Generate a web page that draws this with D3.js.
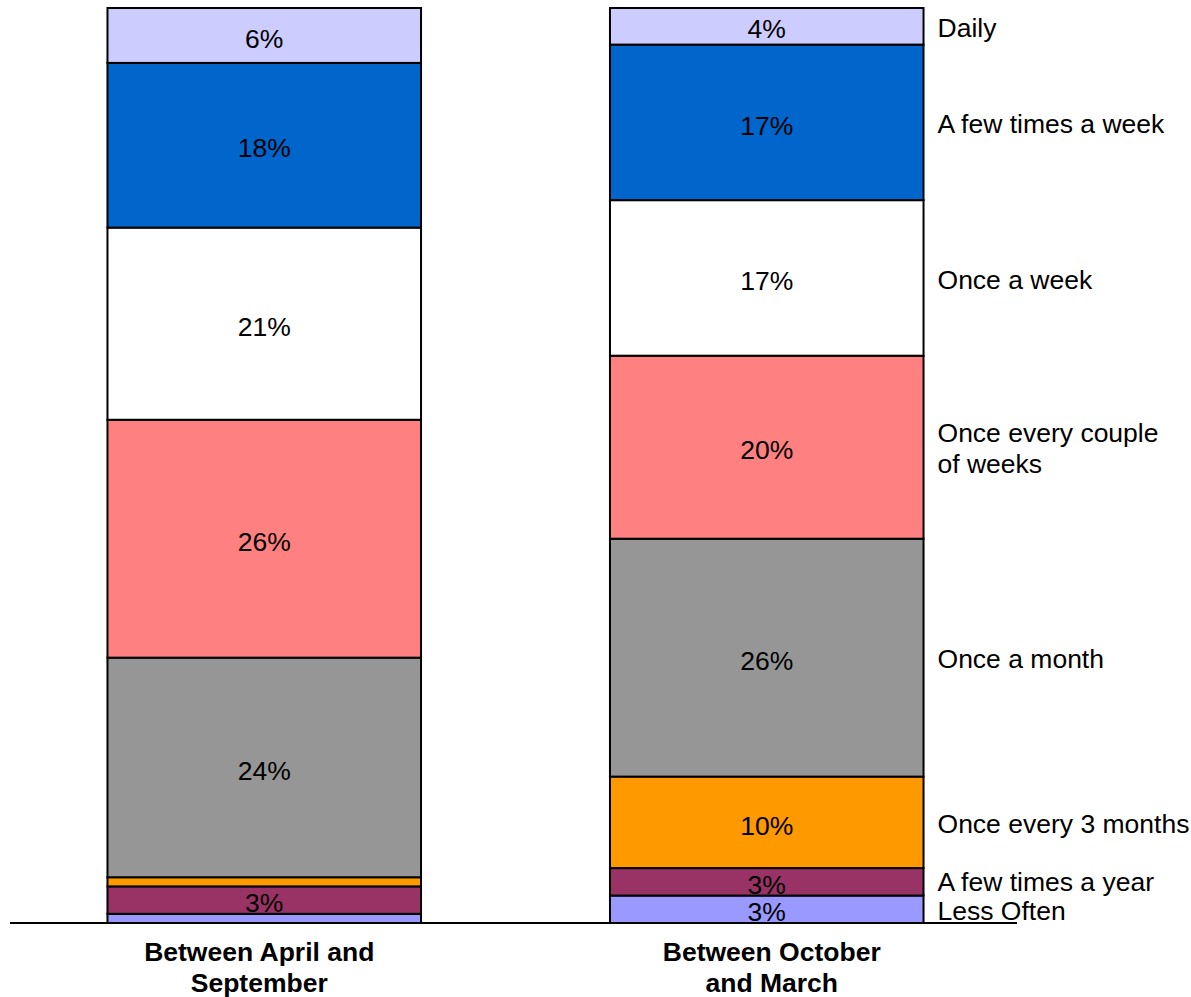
<!DOCTYPE html>
<html>
<head>
<meta charset="utf-8">
<script src="https://cdn.jsdelivr.net/npm/d3@7"></script>
<style>
  body { margin: 0; background: #fff; }
  svg { display: block; font-family: "Liberation Sans", Arial, sans-serif; }
</style>
</head>
<body>
<div id="chart"></div>
<script>
// periods (x categories)
const periods = [["Between April and", "September"], ["Between October", "and March"]];
// frequency series, bottom to top of the stack
const freqs = ["Less Often", "A few times a year", "Once every 3 months", "Once a month",
  "Once every couple of weeks", "Once a week", "A few times a week", "Daily"];
const freqColors = ["#9999FF", "#993366", "#FF9900", "#969696", "#FF8080", "#FFFFFF", "#0066CC", "#CCCCFF"];
// percent values per period, same order as freqs
const aprSep = [1, 3, 1, 24, 26, 21, 18, 6];
const octMar = [3, 3, 10, 26, 20, 17, 17, 4];
// legend label lines
const legendLines = {
  "Once every couple of weeks": ["Once every couple", "of weeks"]
};

const width = 1191, height = 997;
const fontSize = 26.5;

const svg = d3.select("#chart").append("svg")
  .attr("width", width)
  .attr("height", height);

const x = d3.scaleBand()
  .domain([0, 1])
  .range([13, 1018])
  .paddingInner(0.376)
  .paddingOuter(0.188);

const y = d3.scaleLinear()
  .domain([0, 100])
  .range([923, 8]);

const values = [aprSep, octMar];
const table = values.map((vals, i) => {
  const row = { period: i };
  freqs.forEach((f, j) => { row[f] = vals[j]; });
  return row;
});
const stacked = d3.stack().keys(freqs)(table);

const layers = svg.append("g")
  .selectAll("g")
  .data(stacked)
  .join("g")
  .attr("fill", (d, i) => freqColors[i]);

layers.selectAll("rect")
  .data(d => d)
  .join("rect")
  .attr("x", d => x(d.data.period))
  .attr("y", d => y(d[1]))
  .attr("width", x.bandwidth())
  .attr("height", d => y(d[0]) - y(d[1]))
  .attr("stroke", "#000")
  .attr("stroke-width", 2);

// value labels (skip tiny slices)
const labels = svg.append("g")
  .attr("font-size", fontSize)
  .attr("text-anchor", "middle")
  .attr("fill", "#000");

stacked.forEach(layer => {
  layer.forEach(d => {
    const v = d[1] - d[0];
    if (v < 2) return;
    labels.append("text")
      .attr("x", x(d.data.period) + x.bandwidth() / 2)
      .attr("y", (y(d[0]) + y(d[1])) / 2)
      .attr("dy", "0.46em")
      .text(v + "%");
  });
});

// baseline
svg.append("line")
  .attr("x1", 10)
  .attr("x2", 1017)
  .attr("y1", y(0))
  .attr("y2", y(0))
  .attr("stroke", "#000")
  .attr("stroke-width", 2);

// category labels
const cat = svg.append("g")
  .attr("font-size", fontSize)
  .attr("font-weight", "bold")
  .attr("text-anchor", "middle");

periods.forEach((lines, i) => {
  const cx = x(i) + x.bandwidth() / 2 + (i === 0 ? -5 : 5);
  const t = cat.append("text")
    .attr("x", cx)
    .attr("y", 961);
  lines.forEach((ln, k) => {
    t.append("tspan")
      .attr("x", cx)
      .attr("dy", k === 0 ? 0 : 31)
      .text(ln);
  });
});

// series labels beside the second bar
const last = stacked.map(layer => layer[1]);
const legend = svg.append("g")
  .attr("font-size", fontSize)
  .attr("fill", "#000");

// resolve overlap between neighbouring labels (bottom to top)
const ys = last.map(d => (y(d[0]) + y(d[1])) / 2);
for (let i = 1; i < ys.length; i++) {
  if (ys[i - 1] - ys[i] < 29) ys[i] = ys[i - 1] - 29;
}

freqs.forEach((f, i) => {
  const lines = legendLines[f] || [f];
  const lx = x(1) + x.bandwidth() + 14;
  const t = legend.append("text")
    .attr("x", lx)
    .attr("y", ys[i] - (lines.length - 1) * 31 / 2);
  lines.forEach((ln, k) => {
    t.append("tspan")
      .attr("x", lx)
      .attr("dy", k === 0 ? "0.4em" : 31)
      .text(ln);
  });
});
</script>
</body>
</html>
